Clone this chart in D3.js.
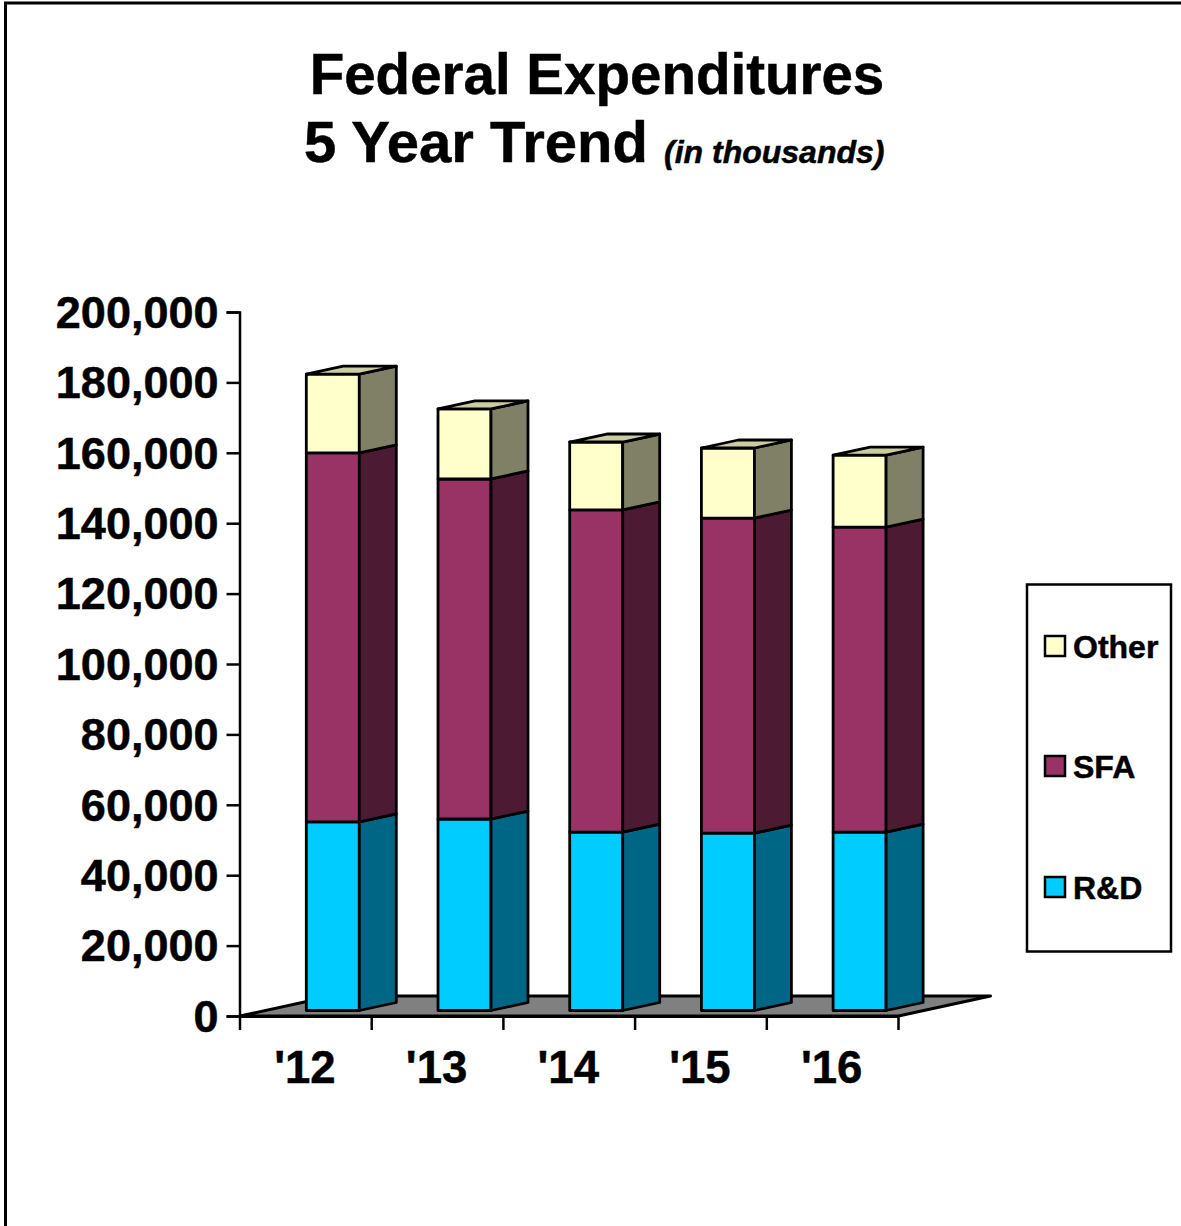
<!DOCTYPE html>
<html>
<head>
<meta charset="utf-8">
<script src="https://cdn.jsdelivr.net/npm/d3@7"></script>
<style>
html,body{margin:0;padding:0;background:#fff}
svg{display:block}
text{font-family:"Liberation Sans",Arial,sans-serif;font-weight:bold;fill:#000;stroke:#000;stroke-width:0.5px}
</style>
</head>
<body>
<svg id="chart" width="1181" height="1226"></svg>
<script>
// Federal expenditures by year, in thousands of dollars
const years = ["'12", "'13", "'14", "'15", "'16"];
const rdValues = [53600, 54400, 50700, 50400, 50700];
const sfaValues = [104800, 96600, 91500, 89500, 86600];
const otherValues = [22400, 19900, 19300, 19900, 20500];
const yTicks = [0, 20000, 40000, 60000, 80000, 100000, 120000, 140000, 160000, 180000, 200000];
const seriesNames = ["R&D", "SFA", "Other"];
const seriesColors = ["#00ccff", "#993366", "#ffffcc"];
const sideColors = ["#006685", "#4d1a33", "#808066"];
const topColor = "#cccca3";

const svg = d3.select("#chart");

// Page frame
svg.append("rect").attr("x", 5.5).attr("y", 3).attr("width", 1190).attr("height", 1240)
  .attr("fill", "#fff").attr("stroke", "#000").attr("stroke-width", 3);

// Title block
const title = svg.append("g");
title.append("text").attr("x", 597).attr("y", 94).attr("text-anchor", "middle").attr("font-size", 56.5).text("Federal Expenditures");
title.append("text").attr("x", 304).attr("y", 162).attr("font-size", 58).text("5 Year Trend");
title.append("text").attr("x", 664).attr("y", 162.5).attr("font-size", 32).attr("font-style", "italic").text("(in thousands)");

// Scales
const y = d3.scaleLinear().domain([0, 200000]).range([1016, 312]);
const x = d3.scaleBand().domain(years).range([240, 898.5]);

// Oblique projection of the plot: depth runs right and upward
const floorDepth = [92, -20];
const barDepth = [37, -8];
const barLift = 5.5;
const barInset = 66.3;
const barWidth = 53;

// Floor
const floorY = y(0);
svg.append("path")
  .attr("d", d3.line()([
    [x.range()[0], floorY],
    [x.range()[1], floorY],
    [x.range()[1] + floorDepth[0], floorY + floorDepth[1]],
    [x.range()[0] + floorDepth[0], floorY + floorDepth[1]]
  ]) + "Z")
  .attr("fill", "#808080").attr("stroke", "#000").attr("stroke-width", 3).attr("stroke-linejoin", "round");

// Value axis
const yAxis = d3.axisLeft(y).tickValues(yTicks).tickSize(13).tickFormat(d3.format(","));
const gy = svg.append("g").attr("transform", "translate(239.5,0)").call(yAxis);
gy.selectAll("path,line").attr("stroke", "#000").attr("stroke-width", 2.5);
gy.selectAll("text").attr("font-size", 45).attr("font-family", '"Liberation Sans"').attr("x", -21).attr("dy", "0.34em");

// Category axis
const xAxis = d3.axisBottom(x).tickSize(0).tickPadding(0);
const gx = svg.append("g").attr("transform", `translate(0,${floorY})`).call(xAxis);
gx.select("path").attr("stroke", "#000").attr("stroke-width", 3);
gx.selectAll("text").attr("font-size", 45.5).attr("font-family", '"Liberation Sans"').attr("y", 67).attr("dy", 0).attr("dx", -1);
svg.append("g").selectAll("line").data([...years.map(d => x(d)), x.range()[1]]).join("line")
  .attr("x1", d => d).attr("x2", d => d).attr("y1", floorY).attr("y2", floorY + 14)
  .attr("stroke", "#000").attr("stroke-width", 2.5);

// Stacked 3-D bars
const rows = years.map((year, i) => ({ year, r: rdValues[i], s: sfaValues[i], o: otherValues[i] }));
const stacked = d3.stack().keys(["r", "s", "o"])(rows);
const poly = pts => d3.line()(pts) + "Z";
const barY = v => y(v) - barLift;

stacked.forEach((layer, k) => {
  const g = svg.append("g").attr("stroke", "#000").attr("stroke-width", 2.8).attr("stroke-linejoin", "round");
  layer.forEach(d => {
    const x0 = x(d.data.year) + barInset, x1 = x0 + barWidth;
    const y0 = barY(d[0]), y1 = barY(d[1]);
    g.append("rect").attr("x", x0).attr("y", y1).attr("width", barWidth).attr("height", y0 - y1)
      .attr("fill", seriesColors[k]);
    g.append("path").attr("fill", sideColors[k]).attr("d", poly([
      [x1, y0], [x1 + barDepth[0], y0 + barDepth[1]], [x1 + barDepth[0], y1 + barDepth[1]], [x1, y1]
    ]));
    if (k === stacked.length - 1) {
      g.append("path").attr("fill", topColor).attr("d", poly([
        [x0, y1], [x1, y1], [x1 + barDepth[0], y1 + barDepth[1]], [x0 + barDepth[0], y1 + barDepth[1]]
      ]));
    }
  });
});

// Legend
svg.append("rect").attr("x", 1027).attr("y", 584.5).attr("width", 144).attr("height", 367)
  .attr("fill", "#fff").attr("stroke", "#000").attr("stroke-width", 2.5);
const legendRows = [
  { i: 2, top: 636 },
  { i: 1, top: 756 },
  { i: 0, top: 877 }
];
const legend = svg.append("g");
legendRows.forEach(({ i, top }) => {
  legend.append("rect").attr("x", 1045).attr("y", top).attr("width", 20).attr("height", 20)
    .attr("fill", seriesColors[i]).attr("stroke", "#000").attr("stroke-width", 2.5);
  legend.append("text").attr("x", 1073).attr("y", top + 22).attr("font-size", 32).text(seriesNames[i]);
});
</script>
</body>
</html>
